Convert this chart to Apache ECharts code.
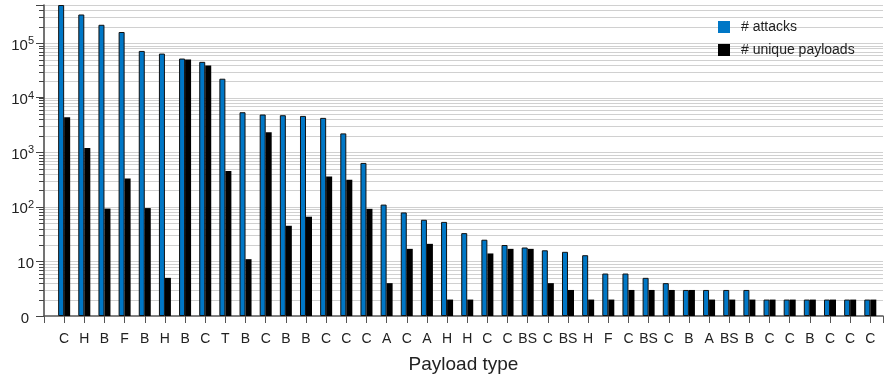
<!DOCTYPE html>
<html>
<head>
<meta charset="utf-8">
<script src="https://cdn.jsdelivr.net/npm/echarts@6/dist/echarts.min.js"></script>
<style>
html,body{margin:0;padding:0;background:#fff;}
#chart{width:886px;height:379px;}
</style>
</head>
<body>
<div id="chart"></div>
<script>
const categories = ['C','H','B','F','B','H','B','C','T','B','C','B','B','C','C','C','A','C','A','H','H','C','C','BS','C','BS','H','F','C','BS','C','B','A','BS','B','C','C','B','C','C','C'];
const attacks = [500000, 335000, 217000, 160000, 72000, 64400, 52200, 45400, 22300, 5420, 4920, 4780, 4640, 4270, 2220, 638, 110, 79, 58, 53, 33, 25, 20, 18, 16, 15, 13, 6, 6, 5, 4, 3, 3, 3, 3, 2, 2, 2, 2, 2, 2];
const uniquePayloads = [4400, 1200, 93, 330, 95, 5, 50000, 38900, 456, 11, 2340, 45, 66, 360, 313, 92, 4, 17, 21, 2, 2, 14, 17, 17, 4, 3, 2, 2, 3, 3, 3, 3, 2, 2, 2, 2, 2, 2, 2, 2, 2];
const yTickValues = [1, 10, 100, 1000, 10000, 100000];
const yTickLabels = ['0', '10', '10^2', '10^3', '10^4', '10^5'];
const seriesNames = ['# attacks', '# unique payloads'];
const yMin = 1, yMax = 500000;

const gridVals = [];
for (let d = 1; d <= 100000; d *= 10) {
  for (let k = 1; k <= 9; k++) {
    const v = d * k;
    if (v > 1 && v <= yMax) gridVals.push(v);
  }
}

const chart = echarts.init(document.getElementById('chart'));
const FONT = 'Liberation Sans, Arial, Helvetica, sans-serif';

chart.setOption({
  animation: false,
  backgroundColor: '#fff',
  grid: { left: 44, right: 0, top: 5, bottom: 61, containLabel: false },
  legend: {
    orient: 'vertical', left: 713, top: 15,
    itemWidth: 12, itemHeight: 12, itemGap: 9, icon: 'rect',
    data: seriesNames,
    itemStyle: { borderWidth: 0 },
    textStyle: { fontSize: 14, lineHeight: 14, color: '#222', fontFamily: FONT, padding: [0, 0, 0, 6] }
  },
  xAxis: {
    type: 'value', min: -1, max: 40.63, interval: 1,
    name: 'Payload type', nameLocation: 'middle', nameGap: 39,
    nameTextStyle: { fontSize: 19, color: '#222', fontFamily: FONT },
    axisLine: { show: true, onZero: false, lineStyle: { color: '#555', width: 1.5 } },
    axisTick: { show: true, length: 7, lineStyle: { color: '#555' } },
    axisLabel: {
      margin: 16, fontSize: 14, color: '#222', fontFamily: FONT,
      formatter: function (v) {
        return (Number.isInteger(v) && v >= 0 && v < categories.length) ? categories[v] : '';
      }
    },
    splitLine: { show: false }
  },
  yAxis: {
    type: 'log', logBase: 10, min: yMin, max: yMax,
    axisLine: { show: true, onZero: false, lineStyle: { color: '#444', width: 1.5 } },
    axisTick: { show: true, length: 8, lineStyle: { color: '#444' } },
    splitLine: { show: false },
    axisLabel: {
      margin: 10, color: '#222', fontFamily: FONT, fontSize: 14,
      padding: [5, 0, 0, 0],
      formatter: function (v) {
        for (let i = 0; i < yTickValues.length; i++) {
          if (Math.abs(v - yTickValues[i]) / yTickValues[i] < 1e-6) {
            const t = yTickLabels[i];
            if (t.indexOf('^') >= 0) {
              const p = t.split('^');
              return '{b|' + p[0] + '}{s|' + p[1] + '}';
            }
            return t === '0' ? '{z|0}' : '{b|' + t + '}';
          }
        }
        return '';
      },
      rich: {
        b: { fontSize: 15, fontFamily: FONT, color: '#222' },
        z: { fontSize: 15, fontFamily: FONT, color: '#222', padding: [0, 5, 0, 0] },
        s: { fontSize: 11, fontFamily: FONT, color: '#222', padding: [0, 0, 9, 0] }
      }
    }
  },
  series: [
    {
      type: 'custom', silent: true, z: 0,
      data: gridVals.map(v => [-1, v]),
      renderItem: function (params, api) {
        const cs = params.coordSys;
        const y = Math.round(api.coord([-1, api.value(1)])[1]) + 0.5;
        return {
          type: 'group',
          children: [
            { type: 'line', shape: { x1: cs.x + 1, y1: y, x2: cs.x + cs.width, y2: y },
              style: { stroke: '#d0d0d0', lineWidth: 1 } },
            { type: 'line', shape: { x1: cs.x - 5, y1: y, x2: cs.x, y2: y },
              style: { stroke: '#444', lineWidth: 1 } }
          ]
        };
      }
    },
    {
      name: seriesNames[0], type: 'bar', z: 2,
      barWidth: 6, barGap: 0,
      itemStyle: { color: '#0077c6', borderColor: '#111', borderWidth: 1 },
      data: attacks.map((v, i) => [i, v])
    },
    {
      name: seriesNames[1], type: 'bar', z: 2,
      barWidth: 6, barGap: 0,
      itemStyle: { color: '#000' },
      data: uniquePayloads.map((v, i) => [i, v])
    }
  ]
});
</script>
</body>
</html>
